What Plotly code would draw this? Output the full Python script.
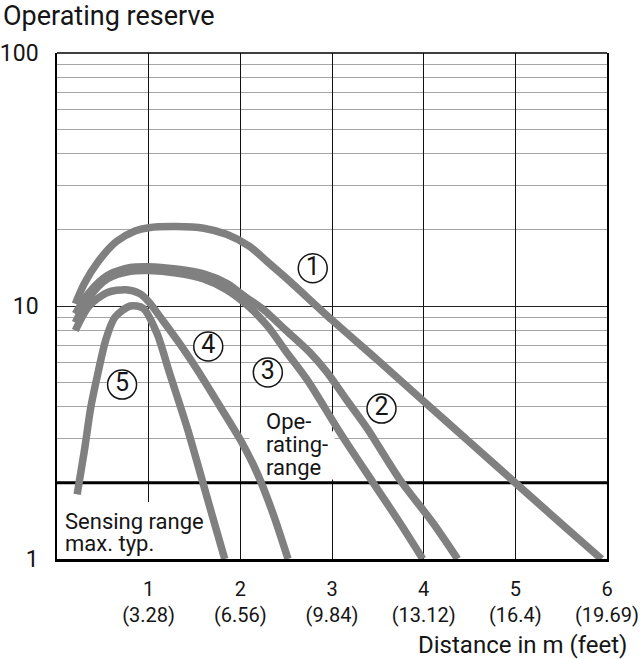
"""Operating reserve vs. distance, five sensor curves on a log scale."""

import math

import plotly.graph_objects as go

# distance in m, operating reserve
curve1_x = [0.2, 0.3, 0.45, 0.65, 0.85, 1.0, 1.3, 1.6, 1.85, 2.1, 2.3, 2.51, 3.0, 3.5, 4.0, 4.5, 5.0, 5.5, 5.94]
curve1_y = [10.2, 12.3, 15.0, 18.0, 19.8, 20.4, 20.6, 20.3, 19.2, 17.2, 14.9, 12.8, 8.8, 6.1, 4.2, 2.9, 2.0, 1.38, 1.0]

curve2_x = [0.2, 0.35, 0.55, 0.8, 1.0, 1.3, 1.6, 1.85, 2.05, 2.25, 2.5, 2.75, 2.94, 3.15, 3.38, 3.74, 4.1, 4.37]
curve2_y = [9.3, 11.3, 13.2, 14.2, 14.3, 14.0, 13.4, 12.3, 10.9, 9.7, 8.0, 6.6, 5.5, 4.3, 3.3, 2.06, 1.39, 1.0]

curve3_x = [0.2, 0.35, 0.55, 0.8, 1.0, 1.3, 1.6, 1.85, 2.1, 2.3, 2.5, 2.73, 3.09, 3.45, 3.74, 3.99]
curve3_y = [8.6, 10.8, 12.8, 13.7, 13.8, 13.5, 12.8, 11.6, 9.9, 8.3, 6.6, 5.1, 3.15, 2.0, 1.39, 1.0]

curve4_x = [0.2, 0.35, 0.55, 0.75, 0.9, 1.0, 1.16, 1.35, 1.53, 1.78, 2.0, 2.18, 2.36, 2.52]
curve4_y = [8.0, 10.0, 11.3, 11.6, 11.2, 10.4, 8.7, 7.0, 5.6, 4.0, 2.96, 2.2, 1.5, 1.0]

curve5_x = [0.22, 0.3, 0.37, 0.45, 0.53, 0.63, 0.8, 0.94, 1.09, 1.23, 1.42, 1.56, 1.69, 1.83]
curve5_y = [1.8, 2.7, 4.0, 5.5, 7.3, 9.0, 10.0, 9.8, 7.8, 5.4, 3.3, 2.2, 1.5, 1.0]

curve_labels = ["1", "2", "3", "4", "5"]
label_x = [2.79, 3.54, 2.30, 1.65, 0.71]
label_y = [14.1, 3.93, 5.46, 6.92, 4.89]

x_ticks = [1, 2, 3, 4, 5, 6]
x_feet = ["3.28", "6.56", "9.84", "13.12", "16.4", "19.69"]
y_major = [1, 10, 100]
y_minor = [2, 3, 4, 5, 6, 7, 8, 9, 20, 30, 40, 50, 60, 70, 80, 90]

# area notes, one entry per text line: (text, x, operating reserve)
operating_lines = [("Ope-", 2.26, 3.49), ("rating-", 2.26, 2.83), ("range", 2.26, 2.31)]
sensing_lines = [("Sensing range", 0.06, 1.41), ("max. typ.", 0.06, 1.155)]

# grid is left out behind the two notes: (x0, x1, y0, y1)
note_gaps = [(0.95, 1.05, 1.0, 1.68), (2.1, 3.03, 2.06, 3.2)]

GRAY = "#808080"
INK = "#151515"
FONT = "Roboto, DejaVu Sans, sans-serif"

fig = go.Figure()
for xs, ys in [(curve1_x, curve1_y), (curve2_x, curve2_y), (curve3_x, curve3_y),
               (curve4_x, curve4_y), (curve5_x, curve5_y)]:
  fig.add_trace(go.Scatter(
    x=xs, y=ys, mode="lines",
    line={"color": GRAY, "width": 7.5, "shape": "spline", "smoothing": 0.8},
    hoverinfo="skip", showlegend=False,
  ))

# circled curve numbers
fig.add_trace(go.Scatter(
  x=label_x, y=label_y, mode="markers+text",
  text=curve_labels, textposition="middle center",
  textfont={"size": 25, "color": INK, "family": FONT},
  marker={"symbol": "circle", "size": 29, "color": "white", "line": {"color": INK, "width": 1.5}},
  hoverinfo="skip", showlegend=False,
))

for x0, x1, y0, y1 in note_gaps:
  fig.add_shape(type="rect", xref="x", yref="y", x0=x0, x1=x1, y0=y0, y1=y1,
                fillcolor="white", line={"width": 0}, layer="between")

# thick line at operating reserve 2
fig.add_shape(type="line", xref="x", yref="y", x0=0, x1=6, y0=2, y1=2,
              line={"color": "black", "width": 3}, layer="between")
fig.add_shape(type="line", xref="paper", yref="paper", x0=0, x1=1, y0=1, y1=1,
              line={"color": "black", "width": 1.5})

# annotations on a log axis take log10 positions
for text, tx, ty in operating_lines + sensing_lines:
  fig.add_annotation(x=tx, y=math.log10(ty), xanchor="left", yanchor="middle", align="left",
                     text=text, showarrow=False,
                     font={"size": 22, "color": INK, "family": FONT})

fig.add_annotation(x=0, y=1, xref="paper", yref="paper", xshift=-56, yshift=55,
                   xanchor="left", yanchor="top", text="Operating reserve", showarrow=False,
                   font={"size": 27, "color": INK, "family": FONT})
fig.add_annotation(x=1, y=0, xref="paper", yref="paper", xshift=22, yshift=-70,
                   xanchor="right", yanchor="top", text="Distance in m (feet)", showarrow=False,
                   font={"size": 24, "color": INK, "family": FONT})

fig.update_xaxes(
  range=[0, 6],
  tickvals=x_ticks,
  ticktext=[f"{v}<br>({ft})" for v, ft in zip(x_ticks, x_feet)],
  showgrid=True, gridcolor="#111", gridwidth=1,
  showline=True, linecolor="black", linewidth=3,
  ticks="", zeroline=False, automargin=False, ticklabeloverflow="allow",
  ticklabelstandoff=10,
  tickfont={"size": 20, "color": INK, "family": FONT},
)
fig.update_yaxes(
  type="log",
  range=[0, 2],
  tickvals=y_major,
  ticktext=[str(v) for v in y_major],
  showgrid=True, gridcolor="#222", gridwidth=1,
  minor={"tickvals": y_minor, "showgrid": True, "gridcolor": "#a6a6a6", "gridwidth": 1, "ticks": ""},
  showline=True, mirror=True, linecolor="black", linewidth=1.5,
  ticks="", ticklabelstandoff=12, automargin=False,
  tickfont={"size": 23, "color": INK, "family": FONT},
)
fig.update_layout(
  width=640, height=659,
  margin={"l": 57, "r": 33, "t": 53, "b": 100},
  plot_bgcolor="white", paper_bgcolor="white",
  showlegend=False,
)

fig.write_html("out.html", config={"displayModeBar": False},
               post_script="document.body.style.margin = '0';")
